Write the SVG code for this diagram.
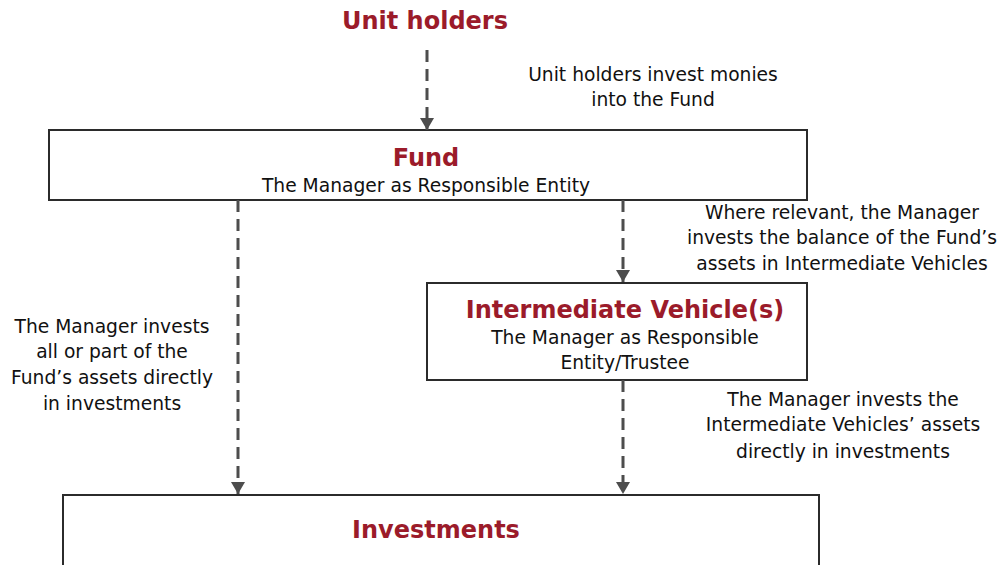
<svg xmlns="http://www.w3.org/2000/svg" width="1007" height="565" viewBox="0 0 1007 565">
<defs>
<marker id="ah" markerWidth="12" markerHeight="14" refX="12" refY="7" orient="auto" markerUnits="userSpaceOnUse" viewBox="0 0 12 14">
<path d="M0,0 L12,7 L0,14 Z" fill="#4d4d4d"/>
</marker>
</defs>
<style>
.box{fill:#fff;stroke:#2b2b2b;stroke-width:2}
.title{font-family:"DejaVu Sans",sans-serif;font-weight:bold;font-size:24px;fill:#9b1b2a;text-anchor:middle}
.txt{font-family:"DejaVu Sans",sans-serif;font-size:18.7px;fill:#111;text-anchor:middle}
.conn{stroke:#4d4d4d;stroke-width:3;stroke-dasharray:12 7;fill:none}
</style>
<rect width="1007" height="565" fill="#fff"/>
<g id="unit-holders">
<text class="title" x="425" y="29">Unit holders</text>
</g>
<g id="fund">
<rect class="box" x="49" y="130" width="758" height="70"/>
<text class="title" x="426" y="166">Fund</text>
<text class="txt" x="426" y="192">The Manager as Responsible Entity</text>
</g>
<g id="intermediate">
<rect class="box" x="427" y="283" width="380" height="97"/>
<text class="title" x="625" y="318">Intermediate Vehicle(s)</text>
<text class="txt" x="625" y="344">The Manager as Responsible</text>
<text class="txt" x="625" y="369">Entity/Trustee</text>
</g>
<g id="investments">
<rect class="box" x="63" y="495" width="756" height="80"/>
<text class="title" x="436" y="538">Investments</text>
</g>
<g id="connectors">
<line class="conn" x1="427" y1="50" x2="427" y2="130" marker-end="url(#ah)"/>
<line class="conn" x1="238" y1="200" x2="238" y2="494" marker-end="url(#ah)"/>
<line class="conn" x1="623" y1="200" x2="623" y2="282" marker-end="url(#ah)"/>
<line class="conn" x1="623" y1="380" x2="623" y2="494" marker-end="url(#ah)"/>
</g>
<g id="labels">
<text class="txt" x="653" y="81">Unit holders invest monies</text>
<text class="txt" x="653" y="106">into the Fund</text>
<text class="txt" x="842" y="219">Where relevant, the Manager</text>
<text class="txt" x="842" y="244">invests the balance of the Fund’s</text>
<text class="txt" x="842" y="270">assets in Intermediate Vehicles</text>
<text class="txt" x="112" y="333">The Manager invests</text>
<text class="txt" x="112" y="358">all or part of the</text>
<text class="txt" x="112" y="384">Fund’s assets directly</text>
<text class="txt" x="112" y="410">in investments</text>
<text class="txt" x="843" y="406">The Manager invests the</text>
<text class="txt" x="843" y="431">Intermediate Vehicles’ assets</text>
<text class="txt" x="843" y="458">directly in investments</text>
</g>
</svg>
